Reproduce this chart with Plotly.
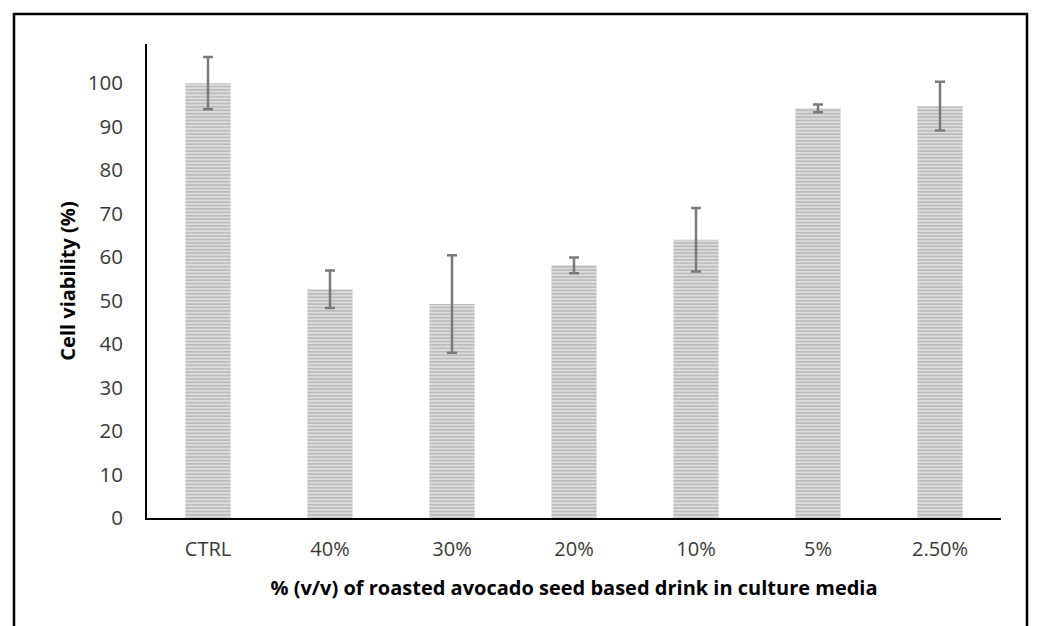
import plotly.graph_objects as go

categories = ["CTRL", "40%", "30%", "20%", "10%", "5%", "2.50%"]
viability = [100.0, 52.6, 49.2, 58.1, 64.0, 94.2, 94.7]
errors = [6.0, 4.3, 11.2, 1.8, 7.3, 0.9, 5.6]
y_ticks = list(range(0, 101, 10))

fig = go.Figure()
fig.add_trace(go.Bar(
    x=categories, y=viability, width=0.37,
    marker=dict(color="#d0d0d0", line=dict(width=0),
                pattern=dict(shape="-", fgcolor="#9c9c9c", bgcolor="#dcdcdc",
                             size=3.4, solidity=0.5)),
    error_y=dict(type="data", array=errors, visible=True, color="#7a7a7a",
                 thickness=2.5, width=5),
))

# the page body adds an ~7px offset; compensate in margins
OFF = 7
W, H = 1038, 626
pw, ph = 854, 474
l, t = 146 - OFF, 43 - OFF
r, b = W - l - pw, H - t - ph

def px(x):
    return (x - OFF - l) / pw

def py(y):
    return (t + ph - (y - OFF)) / ph

fig.add_shape(type="rect", xref="paper", yref="paper",
              x0=px(13), x1=px(1026), y0=py(13), y1=py(680),
              line=dict(color="black", width=2.5), fillcolor="rgba(0,0,0,0)")

fig.update_layout(
    width=W, height=H,
    margin=dict(l=l, r=r, t=t, b=b),
    paper_bgcolor="white", plot_bgcolor="white",
    showlegend=False,
    font=dict(family="Open Sans, Noto Sans, sans-serif", size=20, color="#262626"),
    xaxis=dict(showline=True, linecolor="black", linewidth=2, ticks="",
               tickfont=dict(size=20, color="#3a3a3a"), ticklabelstandoff=12,
               title=dict(text="<b>% (v/v) of roasted avocado seed based drink in culture media</b>",
                          font=dict(size=20, color="black"), standoff=20)),
    yaxis=dict(range=[0, 109], tickvals=y_ticks, showline=True, linecolor="black",
               linewidth=2, showgrid=False, zeroline=False, ticks="",
               tickfont=dict(size=20.5, color="#3a3a3a"), ticklabelstandoff=18,
               title=dict(text="<b>Cell viability (%)</b>",
                          font=dict(size=20, color="black"), standoff=7)),
)

fig.write_html("out.html")
